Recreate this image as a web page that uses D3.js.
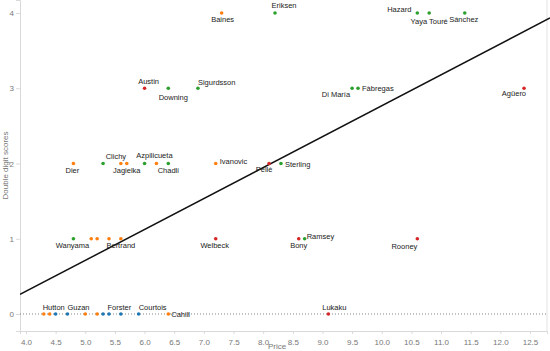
<!DOCTYPE html>
<html>
<head>
<meta charset="utf-8">
<script src="https://cdn.jsdelivr.net/npm/d3@7"></script>
<style>
  html, body { margin: 0; padding: 0; background: #fff; }
  svg { display: block; }
  text { font-family: "Liberation Sans", Arial, sans-serif; }
</style>
</head>
<body>
<svg id="chart" width="550" height="351"></svg>
<script>
// ---- data ----
const players = ["Baines","Eriksen","Hazard","Yaya Touré","Sánchez",
  "Austin","Downing","Sigurdsson","Di María","Fàbregas","Agüero",
  "Dier","","Clichy","Jagielka","","Azpilicueta","Chadli","Ivanovic","Pellè","Sterling",
  "Wanyama","","","","Bertrand","Welbeck","Bony","Ramsey","Rooney",
  "","Hutton","","Guzan","","","","","Forster","Courtois","Cahill","Lukaku"];
const prices = [7.3,8.2,10.6,10.8,11.4,
  6.0,6.4,6.9,9.5,9.6,12.4,
  4.8,5.3,5.6,5.7,6.0,6.2,6.4,7.2,8.1,8.3,
  4.8,5.1,5.2,5.4,5.6,7.2,8.6,8.7,10.6,
  4.3,4.4,4.5,4.7,5.0,5.2,5.3,5.4,5.6,5.9,6.4,9.1];
const scores = [4,4,4,4,4,
  3,3,3,3,3,3,
  2,2,2,2,2,2,2,2,2,2,
  1,1,1,1,1,1,1,1,1,
  0,0,0,0,0,0,0,0,0,0,0,0];
const positions = ["DEF","MID","MID","MID","MID",
  "FWD","MID","MID","MID","MID","FWD",
  "DEF","MID","DEF","DEF","MID","DEF","MID","DEF","FWD","MID",
  "MID","DEF","DEF","DEF","DEF","FWD","FWD","MID","FWD",
  "DEF","DEF","GK","GK","DEF","DEF","GK","GK","GK","GK","DEF","FWD"];
const xTicks = [4.0,4.5,5.0,5.5,6.0,6.5,7.0,7.5,8.0,8.5,9.0,9.5,10.0,10.5,11.0,11.5,12.0,12.5];
const yTicks = [0,1,2,3,4];
const trendIntercept = -1.343;
const trendSlope = 0.4111;

// ---- label placement (styling) ----
const labelPlace = {
  "Baines":[1,9,"middle"], "Eriksen":[9,-5,"middle"], "Hazard":[-6,-1,"end"],
  "Yaya Touré":[0,11,"middle"], "Sánchez":[-1,9,"middle"],
  "Austin":[4,-4,"middle"], "Downing":[5,12,"middle"], "Sigurdsson":[0,-3.5,"start"],
  "Di María":[-2,9,"end"], "Fàbregas":[4,3,"start"], "Agüero":[2,8,"end"],
  "Dier":[-1,9,"middle"], "Clichy":[-5,-5,"middle"], "Jagielka":[0,9,"middle"],
  "Azpilicueta":[-2,-5.5,"middle"], "Chadli":[0,9,"middle"], "Ivanovic":[4,0,"start"],
  "Pellè":[-5,8,"middle"], "Sterling":[4,3,"start"],
  "Wanyama":[-1,9,"middle"], "Bertrand":[0,9,"middle"], "Welbeck":[-1,9,"middle"],
  "Bony":[0,9,"middle"], "Ramsey":[2,0,"start"], "Rooney":[0,10,"end"],
  "Hutton":[4,-4,"middle"], "Guzan":[11,-4,"middle"], "Forster":[-1.5,-4,"middle"],
  "Courtois":[0,-4,"start"], "Cahill":[3,3,"start"], "Lukaku":[6,-4,"middle"]
};
const colors = {DEF:"#ff7f0e", MID:"#2ca02c", FWD:"#d62728", GK:"#1f77b4"};

const data = players.map((p,i)=>({name:p, x:prices[i], y:scores[i], pos:positions[i]}));

const svg = d3.select("#chart");
const pLeft = 20, pRight = 547, pTop = 0, pBottom = 331;
const x = d3.scaleLinear().domain([3.899, 12.787]).range([pLeft, pRight]);
const y = d3.scaleLinear().domain([-0.226, 4.173]).range([pBottom, pTop]);

// axes
const xAxis = d3.axisBottom(x).tickValues(xTicks).tickFormat(d3.format(".1f")).tickSize(3).tickPadding(5);
const gx = svg.append("g").attr("transform",`translate(0,${pBottom})`).call(xAxis);
gx.select(".domain").attr("stroke","#d9d9d9");
gx.selectAll(".tick line").attr("stroke","#d9d9d9");
gx.selectAll(".tick text").attr("fill","#777").attr("font-size","8px");

const yAxis = d3.axisLeft(y).tickValues(yTicks).tickFormat(d3.format("d")).tickSize(4).tickPadding(2);
const gy = svg.append("g").attr("transform",`translate(${pLeft},0)`).call(yAxis);
gy.select(".domain").attr("stroke","#d9d9d9");
gy.selectAll(".tick line").attr("stroke","#d9d9d9");
gy.selectAll(".tick text").attr("fill","#777").attr("font-size","8px");

// right border
svg.append("line").attr("x1",pRight).attr("x2",pRight).attr("y1",pTop).attr("y2",pBottom)
  .attr("stroke","#e3e3e3");

// axis titles
svg.append("text").attr("x",277).attr("y",349).attr("text-anchor","middle")
  .attr("font-size","8px").attr("fill","#777").text("Price");
svg.append("text").attr("transform",`translate(8,${(pTop+pBottom)/2}) rotate(-90)`)
  .attr("text-anchor","middle").attr("font-size","8px").attr("fill","#777").text("Double digit scores");

// zero reference line
svg.append("line").attr("x1",pLeft).attr("x2",pRight).attr("y1",y(0)).attr("y2",y(0))
  .attr("stroke","#777").attr("stroke-width",0.9).attr("stroke-dasharray","1,2");

// trend line
const xd = x.domain();
svg.append("clipPath").attr("id","plotclip").append("rect")
  .attr("x",pLeft).attr("y",pTop).attr("width",pRight-pLeft+3).attr("height",pBottom-pTop);
svg.append("line")
  .attr("clip-path","url(#plotclip)")
  .attr("x1",x(xd[0])).attr("y1",y(trendIntercept+trendSlope*xd[0]))
  .attr("x2",x(xd[1]+0.05)).attr("y2",y(trendIntercept+trendSlope*(xd[1]+0.05)))
  .attr("stroke","#111").attr("stroke-width",1.5);

// points
svg.append("g").selectAll("circle").data(data).join("circle")
  .attr("cx",d=>x(d.x)).attr("cy",d=>y(d.y)).attr("r",1.8)
  .attr("fill",d=>colors[d.pos]);

// labels
svg.append("g").selectAll("text").data(data.filter(d=>d.name)).join("text")
  .attr("x",d=>x(d.x)+labelPlace[d.name][0])
  .attr("y",d=>y(d.y)+labelPlace[d.name][1])
  .attr("text-anchor",d=>labelPlace[d.name][2])
  .attr("font-size","7.5px").attr("fill","#222")
  .text(d=>d.name);
</script>
</body>
</html>
